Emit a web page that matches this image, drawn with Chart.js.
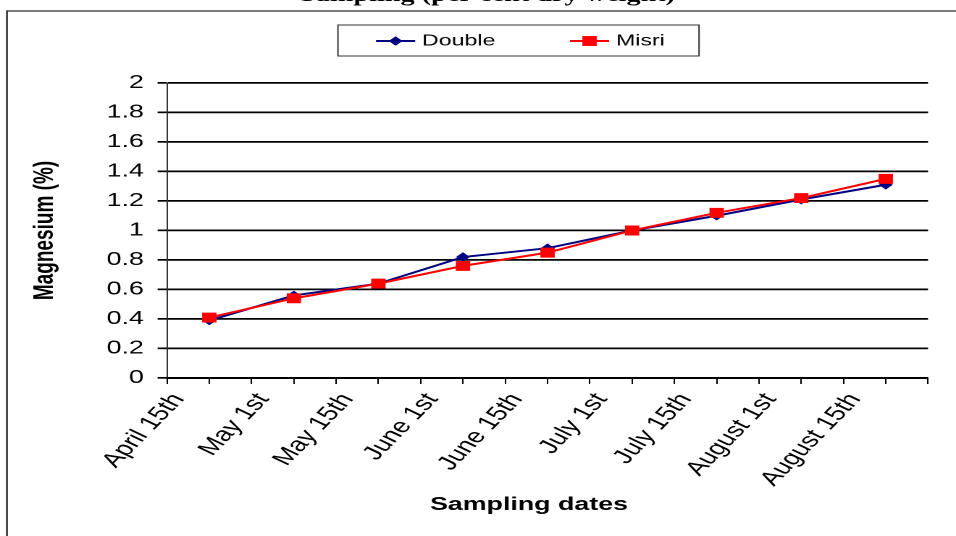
<!DOCTYPE html>
<html>
<head>
    <meta charset="utf-8">
    <title>Magnesium sampling</title>
    <script src="https://cdn.jsdelivr.net/npm/chart.js"></script>
    <style>
        html, body {
            margin: 0;
            padding: 0;
            background: #fff;
            overflow: hidden;
        }
        /* the source figure is stretched sideways, so draw narrow and scale */
        #wrap {
            position: absolute;
            left: 0;
            top: -20px;
            width: 660px;
            height: 556px;
            transform: scaleX(1.4485);
            transform-origin: 0 0;
        }
    </style>
</head>
<body>
    <div id="wrap"><canvas id="chart"></canvas></div>

    <script>
        const chartTitle = 'Sampling (per cent dry weight)';
        const xTitle = 'Sampling dates';
        const yTitle = 'Magnesium (%)';

        // tick labels sit on the boundaries, samples sit between them
        const dateLabels = ['April 15th', 'May 1st', 'May 15th', 'June 1st', 'June 15th',
                            'July 1st', 'July 15th', 'August 1st', 'August 15th'];
        const doubleValues = [0.39, 0.56, 0.64, 0.82, 0.88, 1.00, 1.10, 1.21, 1.31];
        const misriValues  = [0.41, 0.54, 0.64, 0.76, 0.85, 1.00, 1.12, 1.22, 1.35];

        const yMin = 0, yMax = 2, yStep = 0.2;

        const FONT = '"Liberation Sans", Arial, sans-serif';

        function toPoints(values) {
            return values.map((v, i) => ({ x: i + 0.5, y: v }));
        }

        // title, x title, legend box and outer frame
        const framePlugin = {
            id: 'frame',
            afterDraw(chart) {
                const ctx = chart.ctx;
                ctx.save();

                ctx.strokeStyle = '#222';
                ctx.lineWidth = 1.2;
                ctx.strokeRect(4.8, 31, 700, 600);

                ctx.fillStyle = '#000';
                ctx.font = 'bold 19.5px "Liberation Serif", serif';
                ctx.textAlign = 'center';
                ctx.textBaseline = 'alphabetic';
                ctx.fillText(chartTitle, 336.6, 21);

                ctx.font = 'bold 18.5px ' + FONT;
                ctx.textBaseline = 'middle';
                ctx.fillText(xTitle, 365.2, 525);

                // legend
                ctx.strokeStyle = '#333';
                ctx.lineWidth = 1;
                ctx.strokeRect(233.3, 45, 249.3, 31);

                const starts = [259.6, 393.5];
                const ly = 61;
                chart.data.datasets.forEach((ds, i) => {
                    const x0 = starts[i];
                    ctx.strokeStyle = ds.borderColor;
                    ctx.lineWidth = 2;
                    ctx.beginPath();
                    ctx.moveTo(x0, ly);
                    ctx.lineTo(x0 + 27, ly);
                    ctx.stroke();
                    ctx.fillStyle = ds.pointBackgroundColor;
                    Chart.helpers.drawPoint(ctx, {
                        pointStyle: ds.pointStyle,
                        radius: ds.pointRadius,
                        rotation: 0,
                        borderWidth: 0
                    }, x0 + 13.5, ly);
                    ctx.fillStyle = '#000';
                    ctx.font = '16px ' + FONT;
                    ctx.textAlign = 'left';
                    ctx.textBaseline = 'middle';
                    ctx.fillText(ds.label, x0 + 31.7, ly);
                });

                ctx.restore();
            }
        };

        const ctx = document.getElementById('chart').getContext('2d');
        const chart = new Chart(ctx, {
            type: 'line',
            data: {
                datasets: [
                    {
                        label: 'Double',
                        data: toPoints(doubleValues),
                        borderColor: '#000080',
                        backgroundColor: '#000080',
                        pointBackgroundColor: '#000080',
                        pointBorderColor: '#000080',
                        pointStyle: 'rectRot',
                        pointRadius: 4.8,
                        pointBorderWidth: 0,
                        borderWidth: 2,
                        tension: 0,
                        order: 2
                    },
                    {
                        label: 'Misri',
                        data: toPoints(misriValues),
                        borderColor: '#ff0000',
                        backgroundColor: '#ff0000',
                        pointBackgroundColor: '#ff0000',
                        pointBorderColor: '#ff0000',
                        pointStyle: 'rect',
                        pointRadius: 7,
                        pointBorderWidth: 0,
                        borderWidth: 2,
                        tension: 0,
                        order: 1
                    }
                ]
            },
            options: {
                responsive: true,
                maintainAspectRatio: false,
                devicePixelRatio: 2,
                animation: false,
                layout: {
                    padding: { top: 103, right: 19.3, bottom: 0, left: 0 }
                },
                plugins: {
                    legend: { display: false },
                    title: { display: false },
                    tooltip: { enabled: false }
                },
                scales: {
                    x: {
                        type: 'linear',
                        min: 0,
                        max: dateLabels.length,
                        afterFit: (s) => {
                            s.height = 158;
                            s.paddingLeft = 0;
                            s.paddingRight = 0;
                        },
                        ticks: {
                            stepSize: 0.5,
                            maxTicksLimit: 100,
                            autoSkip: false,
                            minRotation: 55.4,
                            maxRotation: 55.4,
                            padding: 5,
                            labelOffset: 8,
                            color: '#000',
                            font: { family: FONT, size: 20 },
                            callback: (v) => Number.isInteger(v) ? (dateLabels[v] || '') : ''
                        },
                        grid: {
                            drawOnChartArea: false,
                            drawTicks: true,
                            tickLength: 6,
                            color: '#000',
                            lineWidth: 1
                        },
                        border: { display: true, color: '#000', width: 1.5 }
                    },
                    y: {
                        min: yMin,
                        max: yMax,
                        afterFit: (s) => { s.width = 115.3; },
                        ticks: {
                            stepSize: yStep,
                            padding: 9.5,
                            color: '#000',
                            font: { family: FONT, size: 18.5 },
                            callback: (v) => String(Math.round(v * 10) / 10)
                        },
                        grid: {
                            color: '#000',
                            lineWidth: 1.7,
                            drawTicks: true,
                            tickLength: 6.5
                        },
                        border: { display: true, color: '#000', width: 0.8 },
                        title: {
                            display: true,
                            text: yTitle,
                            color: '#000',
                            font: { family: FONT, size: 19, weight: 'bold' },
                            padding: { top: 20, bottom: 0 }
                        }
                    }
                }
            },
            plugins: [framePlugin]
        });
    </script>
</body>
</html>
